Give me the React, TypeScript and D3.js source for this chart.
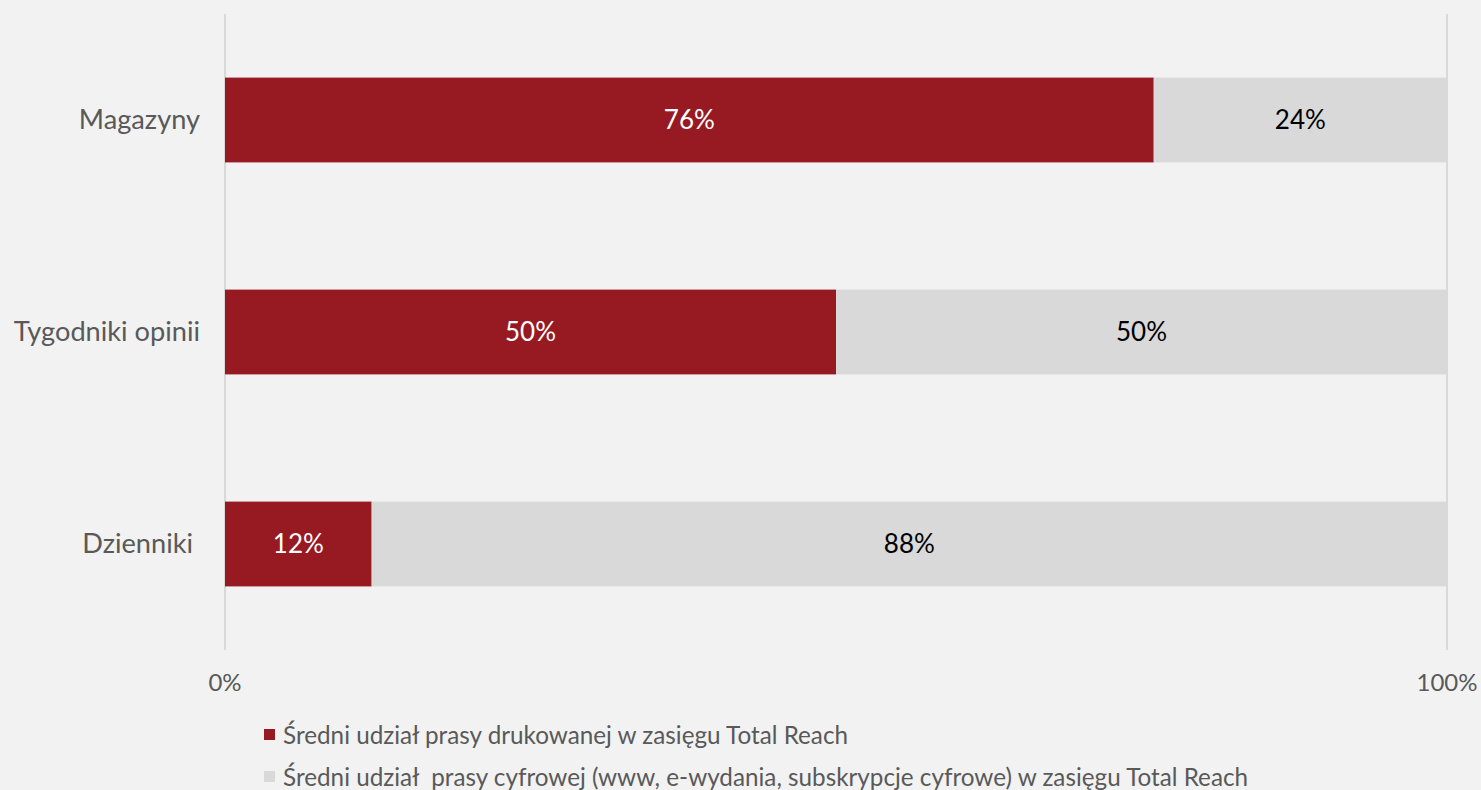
import React, { useEffect } from "react";
import * as d3 from "d3";

const categories = ["Magazyny", "Tygodniki opinii", "Dzienniki "];
const printShare = [76, 50, 12];
const digitalShare = [24, 50, 88];
const xTicks = [0, 100];
const seriesNames = [
  "Średni udział prasy drukowanej w zasięgu Total Reach",
  "Średni udział  prasy cyfrowej (www, e-wydania, subskrypcje cyfrowe) w zasięgu Total Reach",
];
const seriesColors = ["#971a23", "#d9d9d9"];

const W = 1481;
const H = 790;
const FONT = "Lato, 'Open Sans', sans-serif";

export default function App() {
  useEffect(() => {
    document.body.style.margin = "0";
    document.body.style.background = "#f2f2f2";
  }, []);

  const x = d3.scaleLinear().domain([0, 100]).range([225, 1447]);
  const y = d3
    .scaleBand<string>()
    .domain(categories)
    .range([14, 650])
    .paddingInner(0.6)
    .paddingOuter(0.3);
  const bw = y.bandwidth();

  return (
    <svg width={W} height={H} style={{ display: "block", background: "#f2f2f2", fontFamily: FONT }}>
      <rect x={0} y={0} width={W} height={H} fill="#f2f2f2" />
      {xTicks.map((t) => (
        <line key={t} x1={x(t)} x2={x(t)} y1={14} y2={650} stroke="#d9d9d9" strokeWidth={2} />
      ))}
      {categories.map((c, i) => {
        const y0 = y(c)!;
        const p = printShare[i];
        const d = digitalShare[i];
        return (
          <g key={c}>
            <rect x={x(0)} y={y0} width={x(p) - x(0)} height={bw} fill={seriesColors[0]} />
            <rect x={x(p)} y={y0} width={x(p + d) - x(p)} height={bw} fill={seriesColors[1]} />
            <text
              x={(x(0) + x(p)) / 2}
              y={y0 + bw / 2}
              dy="0.35em"
              textAnchor="middle"
              fontSize={26}
              fill="#ffffff"
            >
              {p}%
            </text>
            <text
              x={(x(p) + x(p + d)) / 2}
              y={y0 + bw / 2}
              dy="0.35em"
              textAnchor="middle"
              fontSize={26}
              fill="#000000"
            >
              {d}%
            </text>
            <text
              x={200}
              y={y0 + bw / 2 - 1}
              dy="0.35em"
              textAnchor="end"
              fontSize={27.2}
              fill="#595959"
              style={{ whiteSpace: "pre" }}
            >
              {c}
            </text>
          </g>
        );
      })}
      {xTicks.map((t) => (
        <text key={"l" + t} x={x(t)} y={691} textAnchor="middle" fontSize={24} fill="#595959">
          {t}%
        </text>
      ))}
      {seriesNames.map((s, i) => (
        <g key={s} transform={`translate(264, ${729 + i * 42})`}>
          <rect x={0} y={0} width={11} height={11} fill={seriesColors[i]} />
          <text x={19} y={6} dy="0.35em" fontSize={24.25} fill="#595959" style={{ whiteSpace: "pre" }}>
            {s}
          </text>
        </g>
      ))}
    </svg>
  );
}
